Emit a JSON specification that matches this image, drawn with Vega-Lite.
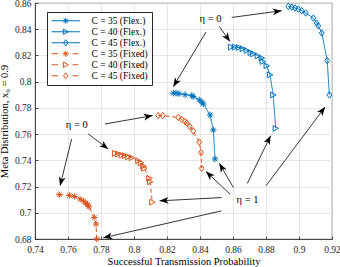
{
  "$schema": "https://vega.github.io/schema/vega-lite/v6.json",
  "width": 297,
  "height": 236,
  "autosize": "none",
  "padding": {"left": 35, "top": 3, "right": 8, "bottom": 28},
  "background": "white",
  "config": {
    "view": {"stroke": "#262626", "strokeWidth": 0.8},
    "axis": {
      "labelFont": "Liberation Serif", "labelFontSize": 9.5, "labelColor": "#262626", "labelOverlap": false,
      "titleFont": "Liberation Serif", "titleFontSize": 10.5, "titleColor": "#000", "titleFontWeight": "normal",
      "gridColor": "#dfdfdf", "gridWidth": 0.8,
      "domainColor": "#262626", "domainWidth": 0.8,
      "tickColor": "#262626", "tickSize": -3, "tickWidth": 0.8
    }
  },
  "datasets": {
    "curves": [
      {"series": "C = 35 (Flex.)", "mode": "Flex", "x": 0.8238, "y": 0.7912},
      {"series": "C = 35 (Flex.)", "mode": "Flex", "x": 0.8255, "y": 0.7912},
      {"series": "C = 35 (Flex.)", "mode": "Flex", "x": 0.8273, "y": 0.7909},
      {"series": "C = 35 (Flex.)", "mode": "Flex", "x": 0.8309, "y": 0.7901},
      {"series": "C = 35 (Flex.)", "mode": "Flex", "x": 0.8350, "y": 0.7894},
      {"series": "C = 35 (Flex.)", "mode": "Flex", "x": 0.8359, "y": 0.7886},
      {"series": "C = 35 (Flex.)", "mode": "Flex", "x": 0.8396, "y": 0.7861},
      {"series": "C = 35 (Flex.)", "mode": "Flex", "x": 0.8410, "y": 0.7845},
      {"series": "C = 35 (Flex.)", "mode": "Flex", "x": 0.8420, "y": 0.7830},
      {"series": "C = 35 (Flex.)", "mode": "Flex", "x": 0.8461, "y": 0.7746},
      {"series": "C = 35 (Flex.)", "mode": "Flex", "x": 0.8481, "y": 0.7631},
      {"series": "C = 35 (Flex.)", "mode": "Flex", "x": 0.8491, "y": 0.7410},
      {"series": "C = 40 (Flex.)", "mode": "Flex", "x": 0.8588, "y": 0.8264},
      {"series": "C = 40 (Flex.)", "mode": "Flex", "x": 0.8612, "y": 0.8264},
      {"series": "C = 40 (Flex.)", "mode": "Flex", "x": 0.8636, "y": 0.8261},
      {"series": "C = 40 (Flex.)", "mode": "Flex", "x": 0.8659, "y": 0.8251},
      {"series": "C = 40 (Flex.)", "mode": "Flex", "x": 0.8683, "y": 0.8238},
      {"series": "C = 40 (Flex.)", "mode": "Flex", "x": 0.8707, "y": 0.8222},
      {"series": "C = 40 (Flex.)", "mode": "Flex", "x": 0.8723, "y": 0.8212},
      {"series": "C = 40 (Flex.)", "mode": "Flex", "x": 0.8750, "y": 0.8197},
      {"series": "C = 40 (Flex.)", "mode": "Flex", "x": 0.8774, "y": 0.8180},
      {"series": "C = 40 (Flex.)", "mode": "Flex", "x": 0.8780, "y": 0.8154},
      {"series": "C = 40 (Flex.)", "mode": "Flex", "x": 0.8804, "y": 0.8121},
      {"series": "C = 40 (Flex.)", "mode": "Flex", "x": 0.8824, "y": 0.8052},
      {"series": "C = 40 (Flex.)", "mode": "Flex", "x": 0.8844, "y": 0.7899},
      {"series": "C = 40 (Flex.)", "mode": "Flex", "x": 0.8859, "y": 0.7644},
      {"series": "C = 45 (Flex.)", "mode": "Flex", "x": 0.8935, "y": 0.8574},
      {"series": "C = 45 (Flex.)", "mode": "Flex", "x": 0.8956, "y": 0.8569},
      {"series": "C = 45 (Flex.)", "mode": "Flex", "x": 0.8976, "y": 0.8562},
      {"series": "C = 45 (Flex.)", "mode": "Flex", "x": 0.8996, "y": 0.8554},
      {"series": "C = 45 (Flex.)", "mode": "Flex", "x": 0.9016, "y": 0.8541},
      {"series": "C = 45 (Flex.)", "mode": "Flex", "x": 0.9041, "y": 0.8524},
      {"series": "C = 45 (Flex.)", "mode": "Flex", "x": 0.9087, "y": 0.8485},
      {"series": "C = 45 (Flex.)", "mode": "Flex", "x": 0.9107, "y": 0.8447},
      {"series": "C = 45 (Flex.)", "mode": "Flex", "x": 0.9117, "y": 0.8426},
      {"series": "C = 45 (Flex.)", "mode": "Flex", "x": 0.9138, "y": 0.8371},
      {"series": "C = 45 (Flex.)", "mode": "Flex", "x": 0.9171, "y": 0.8161},
      {"series": "C = 45 (Flex.)", "mode": "Flex", "x": 0.9184, "y": 0.7899},
      {"series": "C = 35 (Fixed)", "mode": "Fixed", "x": 0.7547, "y": 0.7138},
      {"series": "C = 35 (Fixed)", "mode": "Fixed", "x": 0.7609, "y": 0.7133},
      {"series": "C = 35 (Fixed)", "mode": "Fixed", "x": 0.7639, "y": 0.7125},
      {"series": "C = 35 (Fixed)", "mode": "Fixed", "x": 0.7673, "y": 0.7105},
      {"series": "C = 35 (Fixed)", "mode": "Fixed", "x": 0.7694, "y": 0.7089},
      {"series": "C = 35 (Fixed)", "mode": "Fixed", "x": 0.7709, "y": 0.7073},
      {"series": "C = 35 (Fixed)", "mode": "Fixed", "x": 0.7718, "y": 0.7062},
      {"series": "C = 35 (Fixed)", "mode": "Fixed", "x": 0.7727, "y": 0.7046},
      {"series": "C = 35 (Fixed)", "mode": "Fixed", "x": 0.7759, "y": 0.6964},
      {"series": "C = 35 (Fixed)", "mode": "Fixed", "x": 0.7770, "y": 0.6914},
      {"series": "C = 35 (Fixed)", "mode": "Fixed", "x": 0.7774, "y": 0.6800},
      {"series": "C = 40 (Fixed)", "mode": "Fixed", "x": 0.7885, "y": 0.7453},
      {"series": "C = 40 (Fixed)", "mode": "Fixed", "x": 0.7905, "y": 0.7448},
      {"series": "C = 40 (Fixed)", "mode": "Fixed", "x": 0.7925, "y": 0.7440},
      {"series": "C = 40 (Fixed)", "mode": "Fixed", "x": 0.7945, "y": 0.7435},
      {"series": "C = 40 (Fixed)", "mode": "Fixed", "x": 0.7965, "y": 0.7427},
      {"series": "C = 40 (Fixed)", "mode": "Fixed", "x": 0.7986, "y": 0.7420},
      {"series": "C = 40 (Fixed)", "mode": "Fixed", "x": 0.8026, "y": 0.7397},
      {"series": "C = 40 (Fixed)", "mode": "Fixed", "x": 0.8041, "y": 0.7381},
      {"series": "C = 40 (Fixed)", "mode": "Fixed", "x": 0.8056, "y": 0.7356},
      {"series": "C = 40 (Fixed)", "mode": "Fixed", "x": 0.8062, "y": 0.7339},
      {"series": "C = 40 (Fixed)", "mode": "Fixed", "x": 0.8093, "y": 0.7262},
      {"series": "C = 40 (Fixed)", "mode": "Fixed", "x": 0.8097, "y": 0.7236},
      {"series": "C = 40 (Fixed)", "mode": "Fixed", "x": 0.8111, "y": 0.7081},
      {"series": "C = 45 (Fixed)", "mode": "Fixed", "x": 0.8147, "y": 0.7741},
      {"series": "C = 45 (Fixed)", "mode": "Fixed", "x": 0.8174, "y": 0.7741},
      {"series": "C = 45 (Fixed)", "mode": "Fixed", "x": 0.8268, "y": 0.7727},
      {"series": "C = 45 (Fixed)", "mode": "Fixed", "x": 0.8289, "y": 0.7712},
      {"series": "C = 45 (Fixed)", "mode": "Fixed", "x": 0.8309, "y": 0.7696},
      {"series": "C = 45 (Fixed)", "mode": "Fixed", "x": 0.8319, "y": 0.7685},
      {"series": "C = 45 (Fixed)", "mode": "Fixed", "x": 0.8339, "y": 0.7657},
      {"series": "C = 45 (Fixed)", "mode": "Fixed", "x": 0.8359, "y": 0.7624},
      {"series": "C = 45 (Fixed)", "mode": "Fixed", "x": 0.8396, "y": 0.7540},
      {"series": "C = 45 (Fixed)", "mode": "Fixed", "x": 0.8406, "y": 0.7459},
      {"series": "C = 45 (Fixed)", "mode": "Fixed", "x": 0.8410, "y": 0.7339}
    ],
    "labels": [
      {"text": "η = 0", "x": 0.8464, "y": 0.8480},
      {"text": "η = 0", "x": 0.7653, "y": 0.7666},
      {"text": "η = 1", "x": 0.8688, "y": 0.7096}
    ],
    "arrows": [
      {"x0": 0.8592, "y0": 0.8490, "x": 0.8895, "y": 0.8541},
      {"x0": 0.8517, "y0": 0.8421, "x": 0.8582, "y": 0.8306},
      {"x0": 0.8436, "y0": 0.8378, "x": 0.8238, "y": 0.7962},
      {"x0": 0.7824, "y0": 0.7677, "x": 0.8113, "y": 0.7741},
      {"x0": 0.7723, "y0": 0.7601, "x": 0.7844, "y": 0.7486},
      {"x0": 0.7622, "y0": 0.7563, "x": 0.7552, "y": 0.7206},
      {"x0": 0.8800, "y0": 0.7206, "x": 0.9158, "y": 0.7807},
      {"x0": 0.8687, "y0": 0.7224, "x": 0.8828, "y": 0.7588},
      {"x0": 0.8602, "y0": 0.7193, "x": 0.8517, "y": 0.7377},
      {"x0": 0.8582, "y0": 0.7142, "x": 0.8436, "y": 0.7315},
      {"x0": 0.8531, "y0": 0.7116, "x": 0.8155, "y": 0.7091},
      {"x0": 0.8529, "y0": 0.7014, "x": 0.7814, "y": 0.6809}
    ]
  },
  "layer": [
    {
      "data": {"name": "curves"},
      "mark": {"type": "line", "strokeWidth": 1},
      "encoding": {
        "x": {"field": "x", "type": "quantitative",
              "scale": {"domain": [0.74, 0.92], "nice": false, "zero": false},
              "title": "Successful Transmission Probability",
              "axis": {"values": [0.74, 0.76, 0.78, 0.8, 0.82, 0.84, 0.86, 0.88, 0.9, 0.92], "tickCount": 20, "format": ".2~f", "labelPadding": 8, "titleY": 17, "labelFlush": false, "labelOverlap": false}},
        "y": {"field": "y", "type": "quantitative",
              "scale": {"domain": [0.68, 0.86], "nice": false, "zero": false},
              "title": "Meta Distribution, x₀ = 0.9",
              "axis": {"values": [0.68, 0.7, 0.72, 0.74, 0.76, 0.78, 0.8, 0.82, 0.84, 0.86], "tickCount": 20, "format": ".2~f", "labelPadding": 7, "titlePadding": 5, "labelFlush": false, "labelOverlap": false}},
        "color": {"field": "series", "type": "nominal",
                  "scale": {"domain": ["C = 35 (Flex.)", "C = 40 (Flex.)", "C = 45 (Flex.)", "C = 35 (Fixed)", "C = 40 (Fixed)", "C = 45 (Fixed)"],
                            "range": ["#0072BD", "#0072BD", "#0072BD", "#D95319", "#D95319", "#D95319"]},
                  "legend": {
                    "orient": "none", "legendX": 12, "legendY": 9, "title": null,
                    "symbolSize": 36, "rowPadding": 0, "symbolOffset": 10,
                    "labelFont": "Liberation Serif", "labelFontSize": 9.5, "labelColor": "#000", "labelOffset": 21,
                    "strokeColor": "#262626", "fillColor": "white", "padding": 4,
                    "symbolStrokeWidth": 1,
                    "encode": {"symbols": {"update": {
                      "shape": {"signal": "['M-4.7,0L4.7,0M-1,0L1,0M0,-1L0,1M-0.7,-0.7L0.7,0.7M-0.7,0.7L0.7,-0.7','M-4.7,0L4.7,0M-0.8,-0.9L0.9,0L-0.8,0.9L-0.8,-0.9','M-4.7,0L4.7,0M0,-1L0.75,0L0,1L-0.75,0L0,-1','M-4.7,0L-2.6,0M2.3,0L4.2,0M-1,0L1,0M0,-1L0,1M-0.7,-0.7L0.7,0.7M-0.7,0.7L0.7,-0.7','M-4.7,0L-2.6,0M2.3,0L4.2,0M-0.8,-0.9L0.9,0L-0.8,0.9L-0.8,-0.9','M-4.7,0L-2.6,0M2.3,0L4.2,0M0,-1L0.75,0L0,1L-0.75,0L0,-1'][indexof(['C = 35 (Flex.)','C = 40 (Flex.)','C = 45 (Flex.)','C = 35 (Fixed)','C = 40 (Fixed)','C = 45 (Fixed)'], datum.value)]"},
                      "size": {"value": 36},
                      "fill": {"value": "transparent"},
                      "strokeDash": {"value": []},
                      "strokeWidth": {"value": 1},
                      "opacity": {"value": 1}
                    }}}
                  }},
        "strokeDash": {"field": "mode", "type": "nominal",
                       "scale": {"domain": ["Flex", "Fixed"], "range": [[1, 0], [4, 3]]},
                       "legend": null}
      }
    },
    {
      "data": {"name": "curves"},
      "transform": [{"filter": {"field": "series", "oneOf": ["C = 35 (Flex.)", "C = 35 (Fixed)"]}}],
      "mark": {"type": "point", "filled": false, "strokeWidth": 1, "size": 42, "opacity": 1,
               "shape": "M-1,0L1,0M0,-1L0,1M-0.7,-0.7L0.7,0.7M-0.7,0.7L0.7,-0.7"},
      "encoding": {
        "x": {"field": "x", "type": "quantitative", "title": "Successful Transmission Probability"},
        "y": {"field": "y", "type": "quantitative", "title": "Meta Distribution, x₀ = 0.9"},
        "color": {"field": "series", "type": "nominal"}
      }
    },
    {
      "data": {"name": "curves"},
      "transform": [{"filter": {"field": "series", "oneOf": ["C = 40 (Flex.)", "C = 40 (Fixed)"]}}],
      "mark": {"type": "point", "filled": false, "strokeWidth": 1, "size": 42, "opacity": 1,
               "shape": "M-0.8,-0.9L0.9,0L-0.8,0.9Z"},
      "encoding": {
        "x": {"field": "x", "type": "quantitative", "title": "Successful Transmission Probability"},
        "y": {"field": "y", "type": "quantitative", "title": "Meta Distribution, x₀ = 0.9"},
        "color": {"field": "series", "type": "nominal"}
      }
    },
    {
      "data": {"name": "curves"},
      "transform": [{"filter": {"field": "series", "oneOf": ["C = 45 (Flex.)", "C = 45 (Fixed)"]}}],
      "mark": {"type": "point", "filled": false, "strokeWidth": 1, "size": 42, "opacity": 1,
               "shape": "M0,-1L0.75,0L0,1L-0.75,0Z"},
      "encoding": {
        "x": {"field": "x", "type": "quantitative", "title": "Successful Transmission Probability"},
        "y": {"field": "y", "type": "quantitative", "title": "Meta Distribution, x₀ = 0.9"},
        "color": {"field": "series", "type": "nominal"}
      }
    },
    {
      "data": {"name": "arrows"},
      "mark": {"type": "rule", "color": "#000", "strokeWidth": 0.8},
      "encoding": {
        "x": {"field": "x0", "type": "quantitative", "title": "Successful Transmission Probability"},
        "y": {"field": "y0", "type": "quantitative", "title": "Meta Distribution, x₀ = 0.9"},
        "x2": {"field": "x"},
        "y2": {"field": "y"}
      }
    },
    {
      "data": {"name": "arrows"},
      "transform": [
        {"calculate": "atan2(-(datum.y - datum.y0) * 1308, (datum.x - datum.x0) * 1650) * 180 / PI", "as": "angle"}
      ],
      "mark": {"type": "point", "shape": "M0,0L-1,-0.38L-0.72,0L-1,0.38Z", "filled": true, "color": "#000", "size": 324, "opacity": 1, "strokeWidth": 0},
      "encoding": {
        "x": {"field": "x", "type": "quantitative", "title": "Successful Transmission Probability"},
        "y": {"field": "y", "type": "quantitative", "title": "Meta Distribution, x₀ = 0.9"},
        "angle": {"field": "angle", "type": "quantitative", "scale": null}
      }
    },
    {
      "data": {"name": "labels"},
      "mark": {"type": "text", "font": "Liberation Serif", "fontSize": 10.5, "color": "#000"},
      "encoding": {
        "x": {"field": "x", "type": "quantitative", "title": "Successful Transmission Probability"},
        "y": {"field": "y", "type": "quantitative", "title": "Meta Distribution, x₀ = 0.9"},
        "text": {"field": "text"}
      }
    }
  ]
}
